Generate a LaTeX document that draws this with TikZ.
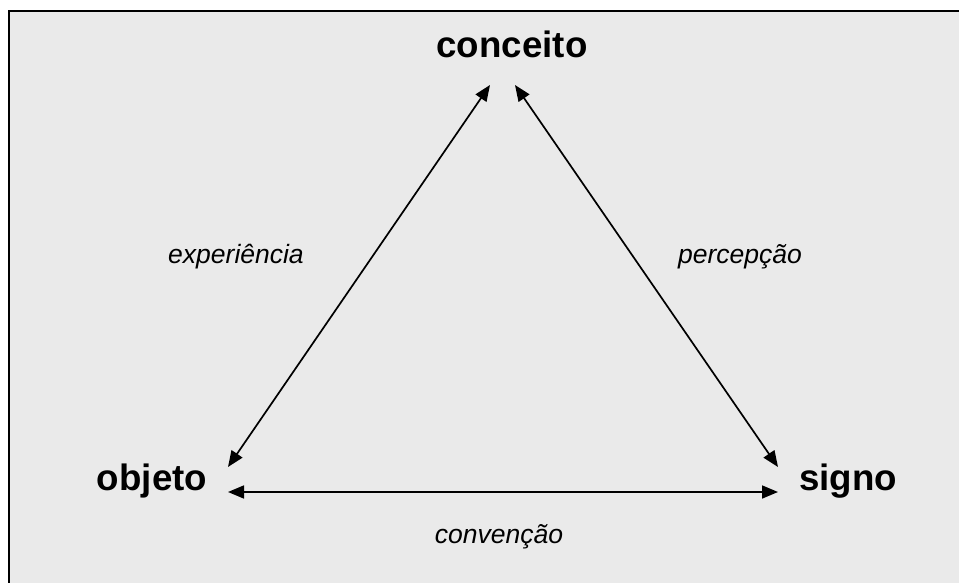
\documentclass[tikz,border=0pt]{standalone}
\usepackage{fontspec}
\setmainfont{Liberation Sans}
\usetikzlibrary{arrows.meta}
\definecolor{bggray}{HTML}{EAEAEA}
\begin{document}
\begin{tikzpicture}[x=1pt,y=-1pt,
  vertex/.style={font=\fontsize{36.7}{40}\selectfont\bfseries, inner sep=0pt, anchor=base},
  rel/.style={font=\fontsize{26.5}{30}\selectfont\itshape, inner sep=0pt, anchor=base},
  link/.style={line width=1.7pt, {Triangle[length=16pt,width=13pt]}-{Triangle[length=16pt,width=13pt]}}]
\useasboundingbox (0,0) rectangle (959,583);
\fill[white] (0,0) rectangle (959,583);
\fill[bggray] (9,11) rectangle (959,583);
\draw[line width=2pt] (9,583) -- (9,11) -- (959,11);
\node[vertex] (conceito) at (512,58) {conceito};
\node[vertex] (objeto) at (152,490) {objeto};
\node[vertex] (signo) at (848,490) {signo};
\coordinate (cL) at (490,85);
\coordinate (cR) at (515,85);
\coordinate (oT) at (228,467);
\coordinate (oR) at (228,492);
\coordinate (sT) at (778,467);
\coordinate (sL) at (778,492);
\draw[link] (cL) -- (oT);
\draw[link] (cR) -- (sT);
\draw[link] (oR) -- (sL);
\node[rel] (exp) at (236,263) {experiência};
\node[rel] (per) at (740,263) {percepção};
\node[rel] (con) at (499,543) {convenção};
\end{tikzpicture}
\end{document}
